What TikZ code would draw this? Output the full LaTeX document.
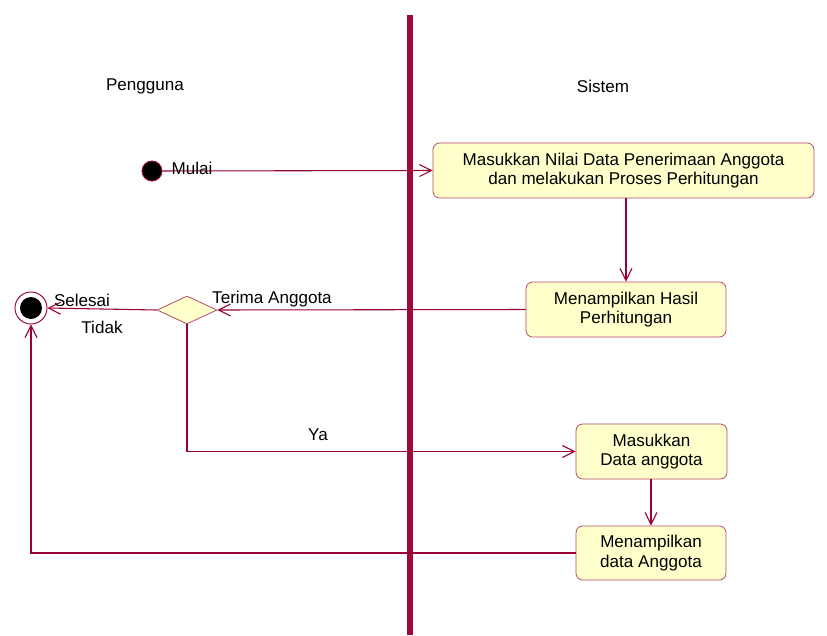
\documentclass[tikz,border=0pt]{standalone}
\usepackage{fontspec}
\setmainfont{Liberation Sans}
\usetikzlibrary{arrows.meta,shapes.geometric}
\definecolor{flowline}{HTML}{990033}
\definecolor{boxedge}{HTML}{B8486A}
\definecolor{boxfill}{HTML}{FFFFCC}
\definecolor{lanebar}{HTML}{9E0A3C}
\tikzset{
  lbl/.style={font=\fontsize{12.8}{14.5}\selectfont, inner sep=0pt},
  activity/.style={draw=boxedge, fill=boxfill, rounded corners=5pt, line width=0.6pt,
    align=center, font=\fontsize{12.8}{14.5}\selectfont, inner sep=0pt},
  flow/.style={draw=flowline, line width=0.8pt},
  flowarrow/.style={flow, -{Straight Barb[length=9pt,width=9pt,line width=0.8pt]}},
  decision/.style={diamond, draw=boxedge, fill=boxfill, line width=0.6pt, inner sep=0pt,
    aspect=2.14, minimum width=45pt, minimum height=21pt},
}
\begin{document}
\begin{tikzpicture}[x=0.75pt,y=-0.75pt]
  \useasboundingbox (0,0) rectangle (827,635);

  % swimlane divider and lane titles
  \coordinate (lanetop) at (410,15);
  \coordinate (lanebottom) at (410,635);
  \draw[lanebar, line width=4.5pt] (lanetop) -- (lanebottom);
  \node[lbl] (pengguna) at (145,86) {Pengguna};
  \node[lbl] (sistem) at (603,86) {Sistem};

  % activities
  \node[activity, minimum width=285.75pt, minimum height=41.25pt] (box1) at (623.5,170.5)
    {Masukkan Nilai Data Penerimaan Anggota\\dan melakukan Proses Perhitungan};
  \node[activity, minimum width=150pt, minimum height=41.25pt] (box2) at (626,309.5)
    {Menampilkan Hasil\\Perhitungan};
  \node[activity, minimum width=113.25pt, minimum height=41.25pt] (box3) at (651.5,451.5)
    {Masukkan\\Data anggota};
  \node[activity, minimum width=112.5pt, minimum height=40.5pt] (box4) at (651,553)
    {Menampilkan\\data Anggota};

  % decision
  \node[decision] (dia) at (187,310) {};

  % start and end states
  \node[circle, draw=flowline, fill=black, line width=0.6pt, minimum size=15pt, inner sep=0pt] (start) at (152,171) {};
  \node[circle, draw=flowline, fill=white, line width=0.7pt, minimum size=24pt, inner sep=0pt] (endc) at (31,308) {};
  \node[circle, fill=black, minimum size=16.5pt, inner sep=0pt] (endin) at (endc) {};

  % flows
  \draw[flowarrow] (start) -- (box1.west);
  \node[lbl] (mulai) at (192,168) {Mulai};
  \draw[flowarrow] (box2.north |- box1.south) -- (box2.north);
  \draw[flowarrow] (box2.west) -- (dia.east);
  \node[lbl] (terima) at (272,299) {Terima Anggota};
  \draw[flowarrow] (dia.west) -- (endc.east);
  \node[lbl] (selesai) at (82,300) {Selesai};
  \node[lbl] (tidak) at (102,327) {Tidak};
  \draw[flowarrow] (dia.south) |- (box3.west);
  \node[lbl] (ya) at (318,435) {Ya};
  \draw[flowarrow] (box4.north |- box3.south) -- (box4.north);
  \draw[flowarrow] (box4.west) -| (endc.south);
\end{tikzpicture}
\end{document}
